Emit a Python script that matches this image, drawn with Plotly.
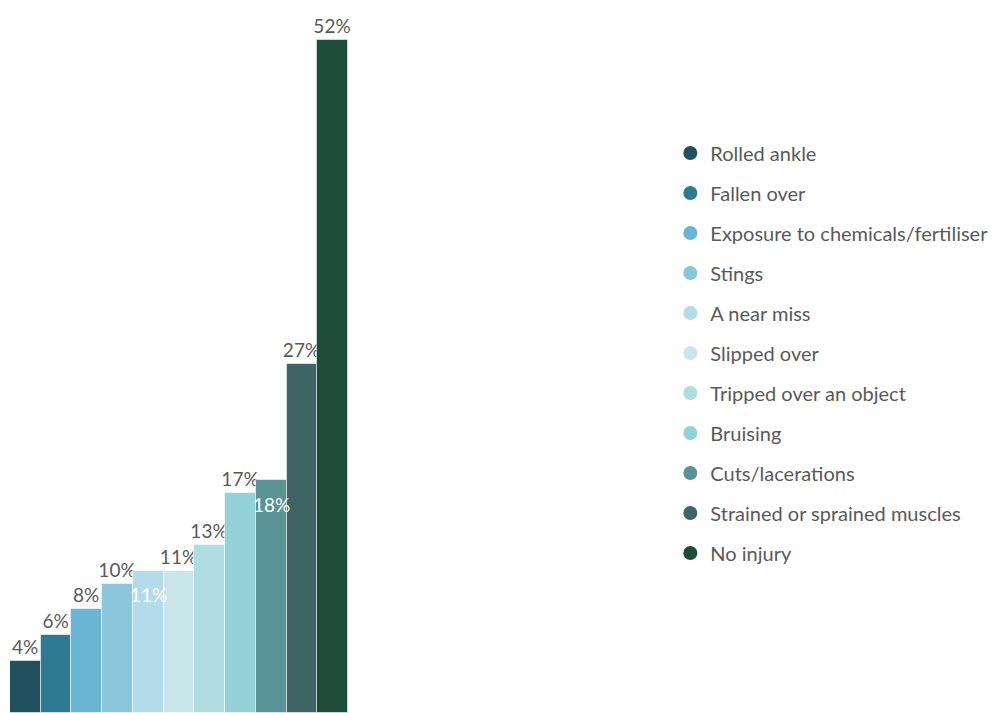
import plotly.graph_objects as go

# Injury categories, share of respondents (%) and bar colours
categories = [
    "Rolled ankle",
    "Fallen over",
    "Exposure to chemicals/fertiliser",
    "Stings",
    "A near miss",
    "Slipped over",
    "Tripped over an object",
    "Bruising",
    "Cuts/lacerations",
    "Strained or sprained muscles",
    "No injury",
]
values = [4, 6, 8, 10, 11, 11, 13, 17, 18, 27, 52]
colors = [
    "#21505f", "#2f7a93", "#69b6d3", "#8ac7dd", "#b4dbea", "#c9e7ea",
    "#aedddf", "#94d1d8", "#5a9396", "#3e6466", "#1d4d38",
]
# Labels drawn inside their bar (white) rather than above it
inside_labels = {"A near miss", "Cuts/lacerations"}

FONT = "Lato"
GREY = "#595959"
X_RANGE = [-0.5, 0.5]
n = len(categories)

fig = go.Figure()
for i, (cat, val, col) in enumerate(zip(categories, values, colors)):
    inside = cat in inside_labels
    fig.add_trace(go.Bar(
        x=[0], y=[val], name=cat,
        marker=dict(color=col, line=dict(color="rgba(255,255,255,0.55)", width=1)),
        text=None if inside else [f"{val}%"],
        textposition="outside",
        textangle=0,
        constraintext="none",
        textfont=dict(family=FONT, size=19, color=GREY),
        showlegend=False,
        cliponaxis=False,
    ))
    if inside:
        # white label just below the top of its bar (centre of the bar's group slot)
        xc = X_RANGE[0] + (i + 0.5) * (X_RANGE[1] - X_RANGE[0]) / n
        fig.add_annotation(
            x=xc, y=val, xref="x", yref="y", text=f"{val}%",
            showarrow=False, yanchor="middle", yshift=-24,
            font=dict(family=FONT, size=19, color="white"),
        )

# Round legend markers, one per category
for i, (cat, col) in enumerate(zip(categories, colors)):
    fig.add_trace(go.Scatter(
        x=[None], y=[None], mode="markers", name=cat,
        marker=dict(symbol="circle", size=14, color=col),
        legendgroup=f"g{i}", showlegend=True,
    ))

fig.update_layout(
    width=1000, height=713,
    margin=dict(l=10, r=0, t=0, b=0),
    paper_bgcolor="white", plot_bgcolor="white",
    barmode="group", bargap=0, bargroupgap=0,
    uniformtext=dict(mode=False),
    xaxis=dict(domain=[0, 338 / 990], visible=False, range=X_RANGE),
    yaxis=dict(visible=False, range=[0, 55.1]),
    legend=dict(
        x=0.667, xanchor="left", y=0.505, yanchor="middle",
        font=dict(family=FONT, size=20, color=GREY),
        traceorder="grouped", tracegroupgap=11,
        itemwidth=30, bgcolor="rgba(0,0,0,0)",
    ),
    font=dict(family=FONT, color=GREY),
)

fig.write_html("out.html")
